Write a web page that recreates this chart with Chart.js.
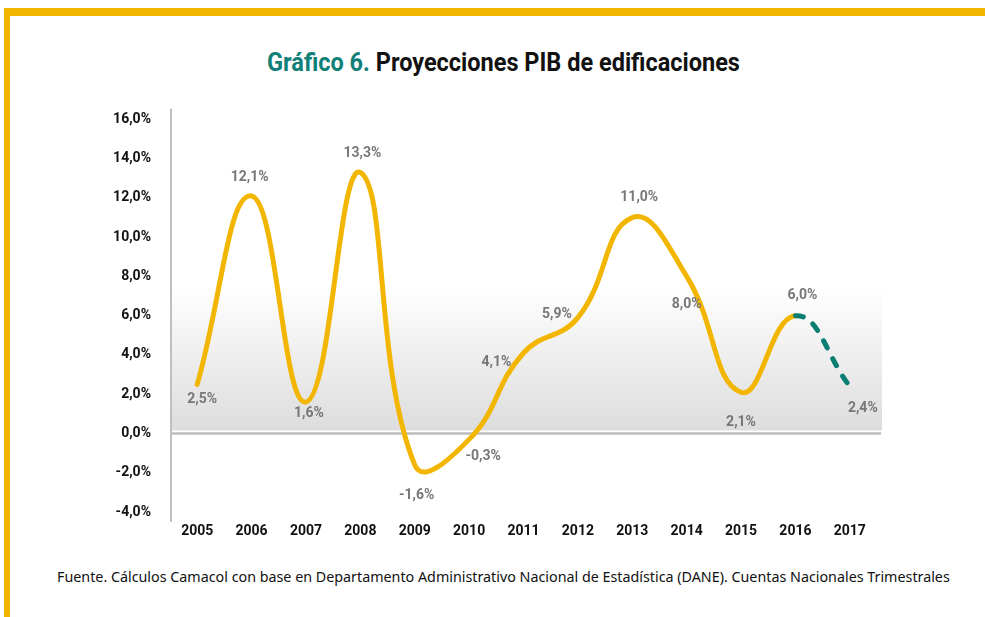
<!DOCTYPE html>
<html>
<head>
<meta charset="utf-8">
<script src="https://cdn.jsdelivr.net/npm/chart.js@4"></script>
<style>
  html, body { margin: 0; padding: 0; background: #fff; }
  body { width: 985px; height: 617px; position: relative; overflow: hidden; font-family: Roboto, sans-serif; }
  .frame-top { position: absolute; left: 4px; top: 8px; width: 981px; height: 8px; background: #f2b600; }
  .frame-left { position: absolute; left: 4px; top: 8px; width: 6px; height: 609px; background: #f2b600; }
  .title-row { position: absolute; left: 30px; top: 48px; width: 948px; text-align: center; }
  .title {
    display: inline-block; white-space: nowrap;
    font: 700 25px Roboto, sans-serif; color: #111;
    transform: scaleX(0.94); transform-origin: 50% 50%;
  }
  .title span { color: #0f8078; }
  .chart-box { position: absolute; left: 0; top: 92px; width: 900px; height: 458px; }
  .source {
    position: absolute; left: 57px; top: 567px; white-space: nowrap;
    font: 400 14.3px "Noto Sans", sans-serif; color: #111;
  }
</style>
</head>
<body>
<div class="frame-top"></div>
<div class="frame-left"></div>
<div class="title-row"><div class="title"><span>Gráfico 6.</span> Proyecciones PIB de edificaciones</div></div>
<div class="chart-box"><canvas id="chart"></canvas></div>
<div class="source">Fuente. Cálculos Camacol con base en Departamento Administrativo Nacional de Estadística (DANE). Cuentas Nacionales Trimestrales</div>

<script>
// ===== Data =====
const years = ['2005', '2006', '2007', '2008', '2009', '2010', '2011', '2012', '2013', '2014', '2015', '2016', '2017'];
const pibEdificaciones = [2.5, 12.1, 1.6, 13.3, -1.6, -0.3, 4.1, 5.9, 11.0, 8.0, 2.1, 6.0, 2.4];
const firstProjectedIndex = 11; // segment 2016 -> 2017 is the projection
const yTicks = { min: -4, max: 16, step: 2 };
const bandTop = 7.5; // shaded background band, from 0 up to this value

const fmt = (v) => v.toFixed(1).replace('.', ',') + '%';

const YELLOW = '#f2b600';
const TEAL = '#0b7e74';

// label offsets (px) relative to each point
const labelOffsets = [
  [5, 15], [-2, -18], [3, 11], [2, -19], [2, 31], [14, 17], [-27, 10],
  [-21, -3], [7, -20], [0, 28], [0, 30], [7, -20], [13, 22]
];

// ===== Background band + zero line =====
const backdropPlugin = {
  id: 'backdrop',
  beforeDatasetsDraw(chart) {
    const { ctx, chartArea, scales } = chart;
    const y = scales.y;
    const top = y.getPixelForValue(bandTop);
    const zero = y.getPixelForValue(0);
    ctx.save();
    const grad = ctx.createLinearGradient(0, top, 0, zero);
    grad.addColorStop(0, 'rgba(255,255,255,1)');
    grad.addColorStop(1, '#dcdcdc');
    ctx.fillStyle = grad;
    ctx.fillRect(chartArea.left + 2, top, chartArea.right - chartArea.left + 3, zero - top - 3);
    ctx.strokeStyle = '#bdbdbd';
    ctx.lineWidth = 2.5;
    ctx.beginPath();
    ctx.moveTo(chartArea.left, zero);
    ctx.lineTo(chartArea.right + 4, zero);
    ctx.stroke();
    // axis line runs a little past the plot area
    ctx.strokeStyle = '#bfbfbf';
    ctx.lineWidth = 2;
    ctx.beginPath();
    ctx.moveTo(chartArea.left + 1, chartArea.top - 11);
    ctx.lineTo(chartArea.left + 1, chartArea.bottom + 10);
    ctx.stroke();
    ctx.restore();
  }
};

// ===== Value labels =====
const valueLabelPlugin = {
  id: 'valueLabels',
  afterDatasetsDraw(chart) {
    const { ctx } = chart;
    const meta = chart.getDatasetMeta(0);
    ctx.save();
    ctx.font = '700 14px Roboto, sans-serif';
    ctx.fillStyle = '#777777';
    ctx.textAlign = 'center';
    ctx.textBaseline = 'middle';
    meta.data.forEach((pt, i) => {
      const off = labelOffsets[i] || [0, -18];
      ctx.fillText(fmt(pibEdificaciones[i]), pt.x + off[0], pt.y + off[1]);
    });
    ctx.restore();
  }
};

new Chart(document.getElementById('chart'), {
  type: 'line',
  data: {
    labels: years,
    datasets: [{
      label: 'PIB edificaciones',
      data: pibEdificaciones,
      borderColor: YELLOW,
      borderWidth: 5,
      borderCapStyle: 'round',
      borderJoinStyle: 'round',
      tension: 0.45,
      pointRadius: 0,
      fill: false,
      segment: {
        borderColor: (c) => c.p0DataIndex >= firstProjectedIndex ? TEAL : YELLOW,
        borderDash: (c) => c.p0DataIndex >= firstProjectedIndex ? [8, 12] : undefined
      }
    }]
  },
  options: {
    responsive: true,
    maintainAspectRatio: false,
    animation: false,
    layout: { padding: { left: 0, right: 23, top: 10, bottom: 0 } },
    plugins: {
      legend: { display: false },
      tooltip: { enabled: false }
    },
    scales: {
      x: {
        offset: true,
        grid: { display: false, drawTicks: false, offset: true },
        border: { display: false },
        ticks: {
          color: '#111',
          padding: 11,
          font: { family: 'Roboto', size: 14, weight: '700' }
        },
        afterFit: (s) => { s.height = 38; }
      },
      y: {
        min: yTicks.min,
        max: yTicks.max,
        grid: { display: false, drawTicks: false },
        border: { display: false },
        ticks: {
          stepSize: yTicks.step,
          color: '#111',
          padding: 19,
          font: { family: 'Roboto', size: 14, weight: '700' },
          callback: (v) => fmt(v)
        },
        afterFit: (s) => { s.width = 170; }
      }
    }
  },
  plugins: [backdropPlugin, valueLabelPlugin]
});
</script>
</body>
</html>
